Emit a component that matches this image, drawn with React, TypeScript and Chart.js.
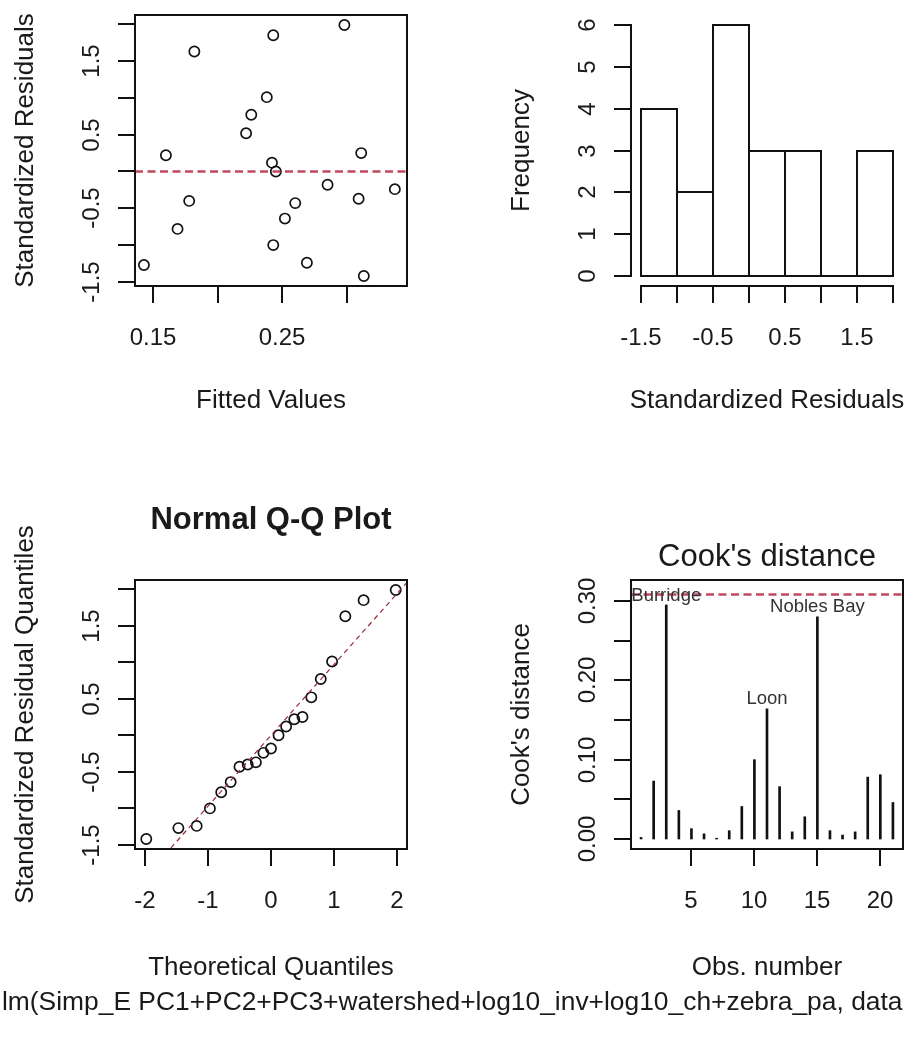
import React, { useEffect, useRef } from "react";
import { Chart, registerables } from "chart.js";

Chart.register(...registerables);

// ---------- data ----------
// Residuals vs fitted
const fittedValues = [0.143, 0.16, 0.169, 0.178, 0.182, 0.222, 0.226, 0.238, 0.243, 0.242, 0.245, 0.243, 0.252, 0.26, 0.269, 0.285, 0.298, 0.311, 0.309, 0.313, 0.337];
const stdResiduals = [-1.27, 0.22, -0.78, -0.4, 1.63, 0.52, 0.77, 1.01, 1.85, 0.12, 0.0, -1.0, -0.64, -0.43, -1.24, -0.18, 1.99, 0.25, -0.37, -1.42, -0.24];
const residualLevel = 0;

// Histogram of standardized residuals
const histBreaks = [-1.5, -1, -0.5, 0, 0.5, 1, 1.5, 2];
const histCounts = [4, 2, 6, 3, 3, 0, 3];

// Normal Q-Q
const theoreticalQuantiles = [-1.98, -1.47, -1.18, -0.97, -0.79, -0.64, -0.5, -0.37, -0.24, -0.12, 0, 0.12, 0.24, 0.37, 0.5, 0.64, 0.79, 0.97, 1.18, 1.47, 1.98];
const qqSlope = 0.97;
const qqIntercept = 0.0;

// Cook's distance
const obsNumbers = [1, 2, 3, 4, 5, 6, 7, 8, 9, 10, 11, 12, 13, 14, 15, 16, 17, 18, 19, 20, 21];
const cooksDistance = [0.002, 0.073, 0.295, 0.036, 0.013, 0.0065, 0.001, 0.0105, 0.041, 0.1, 0.164, 0.066, 0.009, 0.028, 0.28, 0.0105, 0.005, 0.009, 0.078, 0.081, 0.046];
const obsNames = ["", "", "Burridge", "", "", "", "", "", "", "", "Loon", "", "", "", "Nobles Bay", "", "", "", "", "", ""];
const cookCutoff = 0.308;

// ticks
const fittedTicks = [0.15, 0.2, 0.25, 0.3];
const fittedTickLabels = ["0.15", "", "0.25", ""];
const residTicks = [-1.5, -1, -0.5, 0, 0.5, 1, 1.5, 2];
const residTickLabels = ["-1.5", "", "-0.5", "", "0.5", "", "1.5", ""];
const freqTicks = [0, 1, 2, 3, 4, 5, 6];
const freqTickLabels = ["0", "1", "2", "3", "4", "5", "6"];
const quantileTicks = [-2, -1, 0, 1, 2];
const quantileTickLabels = ["-2", "-1", "0", "1", "2"];
const cookTicks = [0, 0.05, 0.1, 0.15, 0.2, 0.25, 0.3];
const cookTickLabels = ["0.00", "", "0.10", "", "0.20", "", "0.30"];
const obsTicks = [5, 10, 15, 20];
const obsTickLabels = ["5", "10", "15", "20"];

const formulaText = "lm(Simp_E PC1+PC2+PC3+watershed+log10_inv+log10_ch+zebra_pa, data";

// ---------- styling ----------
const W = 905;
const H = 1038;
const FONT = '"Liberation Sans", Arial, Helvetica, sans-serif';
const INK = "#111111";
const TEXT = "#1a1a1a";
const LABEL_INK = "#333333";
const REF_RED = "#c0485f";
const QQ_RED = "#9a2a35";
const AXIS_LW = 2;
const TICK_LEN = 17;
const TICK_FONT = 24;
const TITLE_FONT = 26;
const MAIN_FONT = 31;

type Area = { left: number; top: number; right: number; bottom: number };
type AxisSpec = { min: number; max: number; ticks: number[]; labels: string[]; title: string };
type PanelSpec = {
  area: Area;
  type: "scatter" | "bar";
  datasets: any[];
  x: AxisSpec;
  y: AxisSpec;
  box: boolean;
  xTitleOffset: number;
  main?: { text: string; bold: boolean; offset: number };
  extra?: any[];
};

function drawText(
  ctx: CanvasRenderingContext2D,
  text: string,
  x: number,
  y: number,
  size: number,
  weight: string,
  rotate: boolean,
  color: string = TEXT
) {
  ctx.save();
  ctx.font = `${weight} ${size}px ${FONT}`;
  ctx.fillStyle = color;
  ctx.textAlign = "center";
  ctx.textBaseline = "alphabetic";
  ctx.translate(x, y);
  if (rotate) ctx.rotate(-Math.PI / 2);
  // y is the vertical centre of the capital letters
  ctx.fillText(text, 0, (size * 0.716) / 2);
  ctx.restore();
}

// R-style frame: box, axes with outward ticks, rotated y labels, titles
const rFrame = (spec: PanelSpec) => ({
  id: "rFrame",
  afterDraw(chart: any) {
    const { ctx, chartArea: a } = chart;
    const sx = chart.scales.x;
    const sy = chart.scales.y;
    const xPix = sx.ticks.map((t: any) => Math.round(sx.getPixelForValue(t.value)));
    const yPix = sy.ticks.map((t: any) => Math.round(sy.getPixelForValue(t.value)));
    ctx.save();
    ctx.strokeStyle = INK;
    ctx.lineWidth = AXIS_LW;
    ctx.lineCap = "butt";
    if (spec.box) {
      ctx.strokeRect(a.left, a.top, a.right - a.left, a.bottom - a.top);
    }
    ctx.beginPath();
    ctx.moveTo(xPix[0] - 1, a.bottom);
    ctx.lineTo(xPix[xPix.length - 1] + 1, a.bottom);
    xPix.forEach((px: number) => {
      ctx.moveTo(px, a.bottom);
      ctx.lineTo(px, a.bottom + TICK_LEN);
    });
    ctx.moveTo(a.left, yPix[0] + 1);
    ctx.lineTo(a.left, yPix[yPix.length - 1] - 1);
    yPix.forEach((py: number) => {
      ctx.moveTo(a.left, py);
      ctx.lineTo(a.left - TICK_LEN, py);
    });
    ctx.stroke();
    ctx.restore();

    sx.ticks.forEach((t: any, i: number) => {
      const lab = spec.x.labels[i];
      if (lab) drawText(ctx, lab, xPix[i], a.bottom + 50, TICK_FONT, "normal", false);
    });
    sy.ticks.forEach((t: any, i: number) => {
      const lab = spec.y.labels[i];
      if (lab) drawText(ctx, lab, a.left - 45, yPix[i], TICK_FONT, "normal", true);
    });
    const cx = (a.left + a.right) / 2;
    const cy = (a.top + a.bottom) / 2;
    drawText(ctx, spec.x.title, cx, a.bottom + spec.xTitleOffset, TITLE_FONT, "normal", false);
    drawText(ctx, spec.y.title, a.left - 111, cy, TITLE_FONT, "normal", true);
    if (spec.main) {
      drawText(ctx, spec.main.text, cx, a.top - spec.main.offset, MAIN_FONT, spec.main.bold ? "bold" : "normal", false);
    }
  },
});

// horizontal dashed reference line at a data value
const hLine = (value: number, color: string, width: number, dash: number[]) => ({
  id: "hLine",
  afterDatasetsDraw(chart: any) {
    const { ctx, chartArea: a } = chart;
    const py = chart.scales.y.getPixelForValue(value);
    ctx.save();
    ctx.strokeStyle = color;
    ctx.lineWidth = width;
    ctx.setLineDash(dash);
    ctx.beginPath();
    ctx.moveTo(a.left, py);
    ctx.lineTo(a.right, py);
    ctx.stroke();
    ctx.restore();
  },
});

// straight line y = intercept + slope * x across the plot region
const abLine = (intercept: number, slope: number, color: string, width: number, dash: number[]) => ({
  id: "abLine",
  afterDatasetsDraw(chart: any) {
    const { ctx, chartArea: a } = chart;
    const sx = chart.scales.x;
    const sy = chart.scales.y;
    const x0 = sx.min;
    const x1 = sx.max;
    ctx.save();
    ctx.beginPath();
    ctx.rect(a.left, a.top, a.right - a.left, a.bottom - a.top);
    ctx.clip();
    ctx.strokeStyle = color;
    ctx.lineWidth = width;
    ctx.setLineDash(dash);
    ctx.beginPath();
    ctx.moveTo(sx.getPixelForValue(x0), sy.getPixelForValue(intercept + slope * x0));
    ctx.lineTo(sx.getPixelForValue(x1), sy.getPixelForValue(intercept + slope * x1));
    ctx.stroke();
    ctx.restore();
  },
});

// outlines for histogram rectangles (drawn centred on the bin edges)
const histOutline = {
  id: "histOutline",
  afterDatasetsDraw(chart: any) {
    const { ctx } = chart;
    const meta = chart.getDatasetMeta(0);
    ctx.save();
    ctx.strokeStyle = INK;
    ctx.lineWidth = AXIS_LW;
    meta.data.forEach((bar: any) => {
      const { x, y, base, width } = bar.getProps(["x", "y", "base", "width"], true);
      const l = Math.round(x - width / 2);
      const r = Math.round(x + width / 2);
      const t = Math.round(y);
      const b = Math.round(base);
      ctx.strokeRect(l, t, r - l, b - t);
    });
    ctx.restore();
  },
};

// observation names above the tallest Cook's distance lines
const cookLabels = {
  id: "cookLabels",
  afterDatasetsDraw(chart: any) {
    const { ctx } = chart;
    const meta = chart.getDatasetMeta(0);
    meta.data.forEach((bar: any, i: number) => {
      const name = obsNames[i];
      if (name) drawText(ctx, name, bar.x, bar.y - 11, 18.5, "normal", false, LABEL_INK);
    });
  },
};

function axisOptions(ax: AxisSpec) {
  return {
    type: "linear" as const,
    display: false,
    offset: false,
    bounds: "data" as const,
    min: ax.min,
    max: ax.max,
    afterBuildTicks: (scale: any) => {
      scale.ticks = ax.ticks.map((v) => ({ value: v }));
    },
  };
}

function buildChart(canvas: HTMLCanvasElement, spec: PanelSpec) {
  const a = spec.area;
  return new Chart(canvas, {
    type: spec.type,
    data: { datasets: spec.datasets },
    options: {
      responsive: false,
      maintainAspectRatio: false,
      animation: false,
      events: [],
      layout: { padding: { left: a.left, top: a.top, right: W - a.right, bottom: H - a.bottom } },
      plugins: { legend: { display: false }, tooltip: { enabled: false } },
      scales: { x: axisOptions(spec.x) as any, y: axisOptions(spec.y) as any },
    } as any,
    plugins: [...(spec.extra || []), rFrame(spec)],
  } as any);
}

const pointStyle = {
  pointStyle: "circle",
  pointRadius: 5.1,
  pointBorderWidth: 1.7,
  pointBorderColor: INK,
  pointBackgroundColor: "rgba(0,0,0,0)",
  showLine: false,
};

const panels: PanelSpec[] = [
  {
    area: { left: 135, top: 15, right: 407, bottom: 286 },
    type: "scatter",
    datasets: [
      {
        data: fittedValues.map((v, i) => ({ x: v, y: stdResiduals[i] })),
        ...pointStyle,
      },
    ],
    x: { min: 0.1361, max: 0.3464, ticks: fittedTicks, labels: fittedTickLabels, title: "Fitted Values" },
    y: { min: -1.556, max: 2.126, ticks: residTicks, labels: residTickLabels, title: "Standardized Residuals" },
    box: true,
    xTitleOffset: 113,
    extra: [hLine(residualLevel, REF_RED, 2.5, [8, 4.5])],
  },
  {
    area: { left: 631, top: 15, right: 903, bottom: 286 },
    type: "bar",
    datasets: [
      {
        data: histCounts.map((c, i) => ({ x: (histBreaks[i] + histBreaks[i + 1]) / 2, y: c })),
        backgroundColor: "#ffffff",
        borderWidth: 0,
        barPercentage: 1,
        categoryPercentage: 1,
      },
    ],
    x: { min: -1.64, max: 2.14, ticks: histBreaks, labels: residTickLabels, title: "Standardized Residuals" },
    y: { min: -0.24, max: 6.24, ticks: freqTicks, labels: freqTickLabels, title: "Frequency" },
    box: false,
    xTitleOffset: 113,
    extra: [histOutline],
  },
  {
    area: { left: 135, top: 580, right: 407, bottom: 849 },
    type: "scatter",
    datasets: [
      {
        data: [...stdResiduals].sort((p, q) => p - q).map((v, i) => ({ x: theoreticalQuantiles[i], y: v })),
        ...pointStyle,
      },
    ],
    x: { min: -2.159, max: 2.159, ticks: quantileTicks, labels: quantileTickLabels, title: "Theoretical Quantiles" },
    y: { min: -1.556, max: 2.126, ticks: residTicks, labels: residTickLabels, title: "Standardized Residual Quantiles" },
    box: true,
    xTitleOffset: 117,
    main: { text: "Normal Q-Q Plot", bold: true, offset: 62 },
    extra: [abLine(qqIntercept, qqSlope, QQ_RED, 1.2, [5, 4])],
  },
  {
    area: { left: 631, top: 580, right: 903, bottom: 849 },
    type: "bar",
    datasets: [
      {
        data: obsNumbers.map((n, i) => ({ x: n, y: cooksDistance[i] })),
        backgroundColor: INK,
        borderWidth: 0,
        barThickness: 2,
      },
    ],
    x: { min: 0.2, max: 21.8, ticks: obsTicks, labels: obsTickLabels, title: "Obs. number" },
    y: { min: -0.0126, max: 0.3264, ticks: cookTicks, labels: cookTickLabels, title: "Cook's distance" },
    box: true,
    xTitleOffset: 117,
    main: { text: "Cook's distance", bold: false, offset: 25 },
    extra: [hLine(cookCutoff, REF_RED, 2.5, [8, 4.5]), cookLabels],
  },
];

export default function App() {
  const refs = [
    useRef<HTMLCanvasElement>(null),
    useRef<HTMLCanvasElement>(null),
    useRef<HTMLCanvasElement>(null),
    useRef<HTMLCanvasElement>(null),
  ];
  const formulaRef = useRef<HTMLDivElement>(null);

  useEffect(() => {
    const charts = panels.map((p, i) => buildChart(refs[i].current as HTMLCanvasElement, p));
    const el = formulaRef.current;
    if (el) {
      const w = el.scrollWidth;
      if (w > 0) el.style.transform = `scaleX(${900 / w})`;
    }
    return () => charts.forEach((c) => c.destroy());
  }, []);

  return (
    <div
      style={{
        position: "absolute",
        left: 0,
        top: 0,
        width: W,
        height: H,
        background: "#ffffff",
        overflow: "hidden",
      }}
    >
      {refs.map((r, i) => (
        <canvas
          key={i}
          ref={r}
          width={W}
          height={H}
          style={{ position: "absolute", left: 0, top: 0, display: "block" }}
        />
      ))}
      <div
        ref={formulaRef}
        style={{
          position: "absolute",
          left: 2,
          top: 988,
          whiteSpace: "nowrap",
          fontFamily: FONT,
          fontSize: 26,
          lineHeight: "26px",
          color: TEXT,
          transformOrigin: "0 0",
          display: "inline-block",
        }}
      >
        {formulaText}
      </div>
    </div>
  );
}
